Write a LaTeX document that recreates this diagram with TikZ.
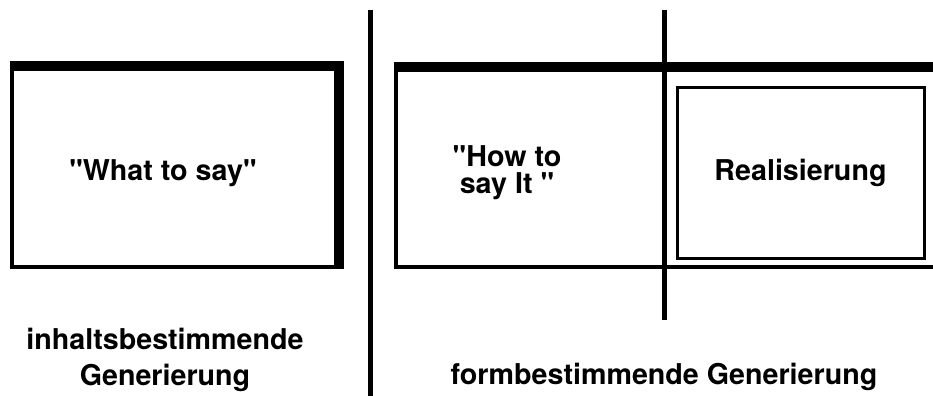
\documentclass[tikz,border=0pt]{standalone}
\usepackage{fontspec}
\setmainfont{TeX Gyre Heros}[Ligatures=TeXOff]
\usetikzlibrary{positioning,calc,shapes}

\begin{document}
\begin{tikzpicture}[x=0.75pt, y=-0.75pt,
		box/.style={draw, rectangle, line width=3pt, inner sep=0pt},
		heavy/.style={line width=8pt},
		divider/.style={line width=3.75pt},
		lbl/.style={font=\fontsize{21.5}{27}\selectfont\bfseries, align=center, inner sep=0pt}]
	\clip (0,0) rectangle (933,396);
	\node[box, minimum width=243.75pt, minimum height=149.25pt] (b1) at (174.5,167.5) {};
	\node[box, minimum width=434.6pt, minimum height=148.5pt] (b2) at (685.25,168) {};
	\node[box, line width=2.25pt, minimum width=185.25pt, minimum height=128.25pt, lbl] (b3) at (800.5,172.5) {Realisierung};
	\draw[heavy] (b1.north west) -- (b1.north east) -- (b1.south east);
	\draw[heavy] (b2.north west) -- (b2.north east);

	\coordinate (d1) at (370,10);
	\coordinate (d2) at (370,400);
	\coordinate (s1) at (664,10);
	\coordinate (s2) at (664,320);
	\draw[divider] (d1) -- (d2);
	\draw[divider] (s1) -- (s2);

	\node[lbl, anchor=base] (t1) at (163,180) {"What to say"};
	\node[lbl, font=\fontsize{21.5}{20}\selectfont\bfseries] (t2) at (507,173) {"How to\\say It "};
	\node[lbl] (t3) at (165,360) {inhaltsbestimmende\\Generierung};
	\node[lbl, anchor=base] (t4) at (664,384) {formbestimmende Generierung};
\end{tikzpicture}
\end{document}
